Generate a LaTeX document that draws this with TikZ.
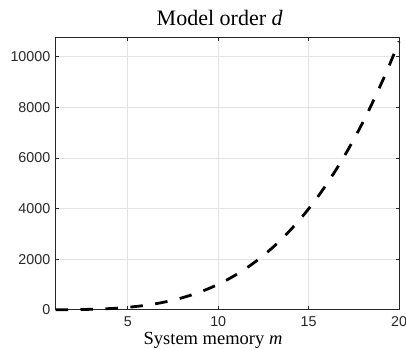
\documentclass[tikz,border=0pt]{standalone}
\usepackage{fontspec}
\setmainfont{Liberation Serif}
\newfontfamily\ticksans{Liberation Sans}
\definecolor{axiscol}{HTML}{262626}
\definecolor{gridcol}{HTML}{E3E3E3}
\begin{document}
\begin{tikzpicture}[x=1pt,y=-1pt,
  declare function={px(\m)=55.5+18.079*(\m-1); py(\v)=309.7-0.0253*\v;},
  gridline/.style={draw=gridcol,line width=0.8pt},
  axisline/.style={draw=axiscol,line width=0.9pt},
  tickmark/.style={draw=axiscol,line width=0.8pt},
  ticklabel/.style={font=\ticksans\fontsize{14.3}{15}\selectfont,text=axiscol,inner sep=0pt},
  curve/.style={draw=black,line width=2.8pt,dash pattern=on 12.5pt off 12.5pt},
  axtitle/.style={inner sep=0pt,anchor=base}]
\useasboundingbox (0,0) rectangle (406,349);
% plot area corners
\coordinate (bl) at (55.5,309.7);
\coordinate (tr) at (399,37.3);
% grid
\foreach \m in {5,10,15} \draw[gridline] ({px(\m)},37.3) -- ({px(\m)},309.7);
\foreach \v in {2000,4000,6000,8000,10000} \draw[gridline] (55.5,{py(\v)}) -- (399,{py(\v)});
% axes box
\draw[axisline] (bl) rectangle (tr);
% ticks on all four sides, pointing inward
\foreach \m in {5,10,15,20} {
  \draw[tickmark] ({px(\m)},309.7) -- ++(0,-3.5);
  \draw[tickmark] ({px(\m)},37.3) -- ++(0,3.5);
  \node[ticklabel,anchor=north] (xl\m) at ({px(\m)},316.3) {\m};
}
\foreach \v in {0,2000,4000,6000,8000,10000} {
  \draw[tickmark] (55.5,{py(\v)}) -- ++(3.5,0);
  \draw[tickmark] (399,{py(\v)}) -- ++(-3.5,0);
  \node[ticklabel,anchor=east] (yl\v) at (50.5,{py(\v)}) {\v};
}
% model order curve d = 0.4 m^3.4
\draw[curve] plot[domain=1:20,samples=100,smooth] ({px(\x)},{309.7-25.42*(\x/10)^3.4});
% labels
\node[axtitle,font=\fontsize{22}{24}\selectfont] (title) at (219.7,25.3) {Model order \textit{d}};
\node[axtitle,font=\fontsize{18.5}{20}\selectfont] (xlabel) at (213,344.3) {System memory \textit{m}};
\end{tikzpicture}
\end{document}
